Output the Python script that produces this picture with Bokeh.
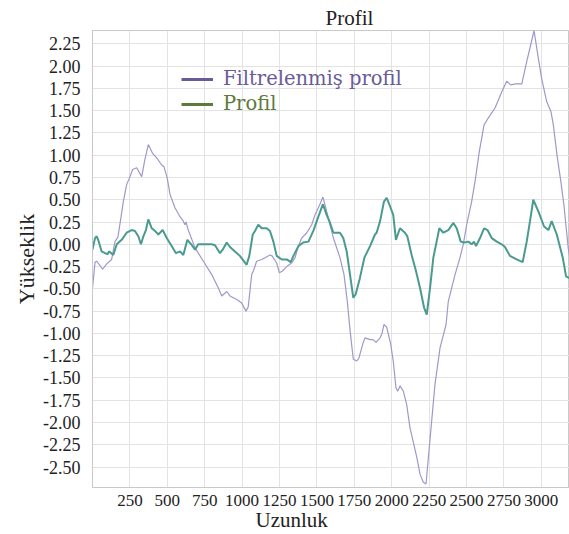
from bokeh.plotting import figure
from bokeh.models import (Range1d, FixedTicker, PrintfTickFormatter, Title,
                          Legend, LegendItem)
from bokeh.embed import file_html
from bokeh.resources import INLINE

# ---- data ----
filt_x = [0, 17, 28, 68, 95, 128, 150, 170, 190, 206, 228, 246, 268, 295, 329, 350,
          373, 402, 429, 462, 478, 500, 518, 551, 585, 607, 618, 625, 640, 685, 741,
          797, 841, 864, 897, 919, 964, 997, 1026, 1041, 1064, 1075, 1097, 1131, 1153,
          1186, 1200, 1231, 1249, 1270, 1298, 1331, 1354, 1376, 1398, 1432, 1465, 1487,
          1520, 1540, 1576, 1610, 1654, 1681, 1703, 1721, 1743, 1766, 1780, 1806, 1821,
          1855, 1875, 1895, 1922, 1935, 1948, 1966, 1993, 2010, 2028, 2040, 2055, 2078,
          2100, 2122, 2140, 2167, 2189, 2211, 2229, 2245, 2267, 2289, 2323, 2340, 2363,
          2378, 2423, 2456, 2478, 2501, 2534, 2557, 2585, 2617, 2646, 2690, 2735, 2768,
          2795, 2830, 2869, 2902, 2929, 2951, 2973, 3002, 3036, 3064, 3080, 3107, 3129,
          3150, 3165, 3180, 3195]
filt_y = [-0.49, -0.20, -0.19, -0.28, -0.22, -0.17, 0.03, 0.08, 0.30, 0.48, 0.67, 0.74,
          0.84, 0.86, 0.76, 0.95, 1.12, 1.02, 0.97, 0.89, 0.87, 0.74, 0.56, 0.41, 0.31,
          0.26, 0.22, 0.25, 0.16, -0.04, -0.19, -0.34, -0.49, -0.58, -0.53, -0.58, -0.62,
          -0.66, -0.75, -0.70, -0.34, -0.30, -0.19, -0.17, -0.15, -0.12, -0.13, -0.21,
          -0.32, -0.30, -0.25, -0.21, -0.15, -0.02, 0.07, 0.13, 0.22, 0.33, 0.45, 0.53,
          0.30, 0.07, -0.15, -0.34, -0.64, -0.96, -1.29, -1.31, -1.28, -1.12, -1.05,
          -1.07, -1.07, -1.10, -1.05, -1.00, -0.90, -0.93, -1.12, -1.31, -1.61, -1.65,
          -1.59, -1.65, -1.80, -2.06, -2.19, -2.39, -2.58, -2.67, -2.69, -2.39, -1.98,
          -1.57, -1.16, -1.05, -0.90, -0.64, -0.34, -0.15, 0.00, 0.22, 0.48, 0.71, 1.04,
          1.34, 1.42, 1.53, 1.71, 1.83, 1.79, 1.80, 1.80, 2.05, 2.24, 2.40, 2.16, 1.86,
          1.60, 1.49, 1.34, 0.97, 0.72, 0.45, 0.20, -0.05, -0.20]

prof_x = [0, 17, 28, 40, 61, 84, 100, 112, 139, 162, 195, 228, 262, 284, 306, 324, 340,
          357, 373, 396, 418, 440, 469, 496, 529, 558, 585, 607, 634, 660, 685, 707, 752,
          797, 819, 852, 870, 897, 919, 952, 985, 1030, 1048, 1071, 1086, 1108, 1131,
          1164, 1186, 1209, 1231, 1265, 1298, 1325, 1343, 1376, 1409, 1443, 1476, 1503,
          1540, 1565, 1583, 1610, 1654, 1676, 1699, 1721, 1743, 1759, 1787, 1817, 1855,
          1888, 1899, 1922, 1948, 1966, 1988, 2010, 2028, 2055, 2088, 2104, 2133, 2162,
          2189, 2216, 2234, 2256, 2278, 2300, 2318, 2345, 2378, 2412, 2434, 2461, 2483,
          2512, 2534, 2550, 2563, 2590, 2617, 2640, 2668, 2702, 2735, 2757, 2790, 2835,
          2875, 2902, 2924, 2946, 2980, 3018, 3047, 3069, 3103, 3143, 3165, 3188]
prof_y = [-0.06, 0.07, 0.09, 0.04, -0.08, -0.10, -0.11, -0.08, -0.12, 0.00, 0.05, 0.13,
          0.16, 0.15, 0.09, 0.00, 0.09, 0.16, 0.28, 0.18, 0.15, 0.11, 0.16, 0.07, -0.02,
          -0.10, -0.08, -0.12, 0.05, 0.00, -0.06, 0.00, 0.00, 0.00, -0.01, -0.10, -0.06,
          0.02, -0.03, -0.08, -0.13, -0.23, -0.13, 0.11, 0.15, 0.22, 0.18, 0.18, 0.15,
          0.03, -0.13, -0.17, -0.17, -0.20, -0.13, -0.02, 0.02, 0.03, 0.15, 0.28, 0.45,
          0.33, 0.26, 0.13, 0.13, 0.07, -0.08, -0.34, -0.60, -0.56, -0.38, -0.15, -0.02,
          0.11, 0.13, 0.26, 0.48, 0.52, 0.43, 0.33, 0.05, 0.18, 0.13, 0.09, -0.12, -0.30,
          -0.49, -0.71, -0.79, -0.49, -0.15, 0.03, 0.18, 0.13, 0.16, 0.24, 0.18, 0.03,
          0.02, 0.03, 0.00, 0.03, -0.02, 0.07, 0.18, 0.16, 0.07, 0.03, 0.00, -0.03, -0.13,
          -0.17, -0.20, 0.03, 0.26, 0.50, 0.37, 0.20, 0.16, 0.26, 0.11, -0.15, -0.36,
          -0.38]

x_ticks = [250, 500, 750, 1000, 1250, 1500, 1750, 2000, 2250, 2500, 2750, 3000]
y_ticks = [-2.5, -2.25, -2.0, -1.75, -1.5, -1.25, -1.0, -0.75, -0.5, -0.25, 0.0,
           0.25, 0.5, 0.75, 1.0, 1.25, 1.5, 1.75, 2.0, 2.25]

legend_labels = ["Filtrelenmiş profil", "Profil"]
title_text = "Profil"
x_label = "Uzunluk"
y_label = "Yükseklik"

# ---- styles ----
SERIF = "Liberation Serif"
PURPLE_LINE = "#9e99c9"
TEAL_LINE = "#4a9a90"
LEG_PURPLE = "#6a5b98"
LEG_GREEN = "#5c7a3a"
GRID = "#e3e3e3"
FRAME = "#c9c9c9"
TXT = "#222222"

p = figure(width=569, height=534, output_backend="svg", toolbar_location=None,
           x_range=Range1d(0, 3188), y_range=Range1d(-2.73, 2.40),
           min_border_left=92, min_border_right=0, min_border_top=30,
           min_border_bottom=47)
p.title = Title(text=title_text, align="left", offset=233, standoff=2,
                text_font=SERIF, text_font_size="21px", text_font_style="normal",
                text_color=TXT)
p.background_fill_color = "white"
p.border_fill_color = "white"
p.outline_line_color = FRAME
p.outline_line_width = 1

p.xaxis.ticker = FixedTicker(ticks=x_ticks)
p.yaxis.ticker = FixedTicker(ticks=y_ticks)
p.yaxis.formatter = PrintfTickFormatter(format="%.2f")
for ax in (p.xaxis, p.yaxis):
    ax.major_tick_line_color = None
    ax.minor_tick_line_color = None
    ax.axis_line_color = FRAME
    ax.major_label_text_font = SERIF
    ax.major_label_text_color = TXT
p.xaxis.major_label_text_font_size = "17px"
p.yaxis.major_label_text_font_size = "18px"
p.xaxis.major_label_standoff = 1
p.yaxis.major_label_standoff = 6

p.yaxis.axis_label = y_label
p.yaxis.axis_label_text_font = SERIF
p.yaxis.axis_label_text_font_size = "22px"
p.yaxis.axis_label_text_font_style = "normal"
p.yaxis.axis_label_text_color = TXT
p.yaxis.axis_label_standoff = 1

p.add_layout(Title(text=x_label, align="left", offset=163, standoff=-6,
                   text_font=SERIF, text_font_size="21px", text_font_style="normal",
                   text_color=TXT), "below")

p.xgrid.grid_line_color = GRID
p.ygrid.grid_line_color = GRID
p.xgrid.ticker = FixedTicker(ticks=x_ticks)
p.ygrid.ticker = FixedTicker(ticks=y_ticks)

p.line(filt_x, filt_y, line_color=PURPLE_LINE, line_width=1.2)
p.line(prof_x, prof_y, line_color=TEAL_LINE, line_width=2)

# hidden copies used only as legend swatches
r_leg1 = p.line(filt_x, filt_y, line_color=LEG_PURPLE, line_width=3, visible=False)
r_leg2 = p.line(prof_x, prof_y, line_color=LEG_GREEN, line_width=3, visible=False)

def make_legend(label, renderer, color, loc):
    return Legend(items=[LegendItem(label=label, renderers=[renderer])],
                  location=loc, padding=0, margin=0, spacing=0,
                  glyph_width=32, glyph_height=20, label_standoff=10,
                  label_text_font="DejaVu Serif", label_text_font_size="19.5px",
                  label_text_color=color, border_line_alpha=0,
                  background_fill_alpha=0, inactive_fill_alpha=0,
                  click_policy="none")

p.add_layout(make_legend(legend_labels[0], r_leg1, LEG_PURPLE, (89, 397)))
p.add_layout(make_legend(legend_labels[1], r_leg2, LEG_GREEN, (89, 372)))

open("out.html", "w").write(file_html(p, INLINE))
